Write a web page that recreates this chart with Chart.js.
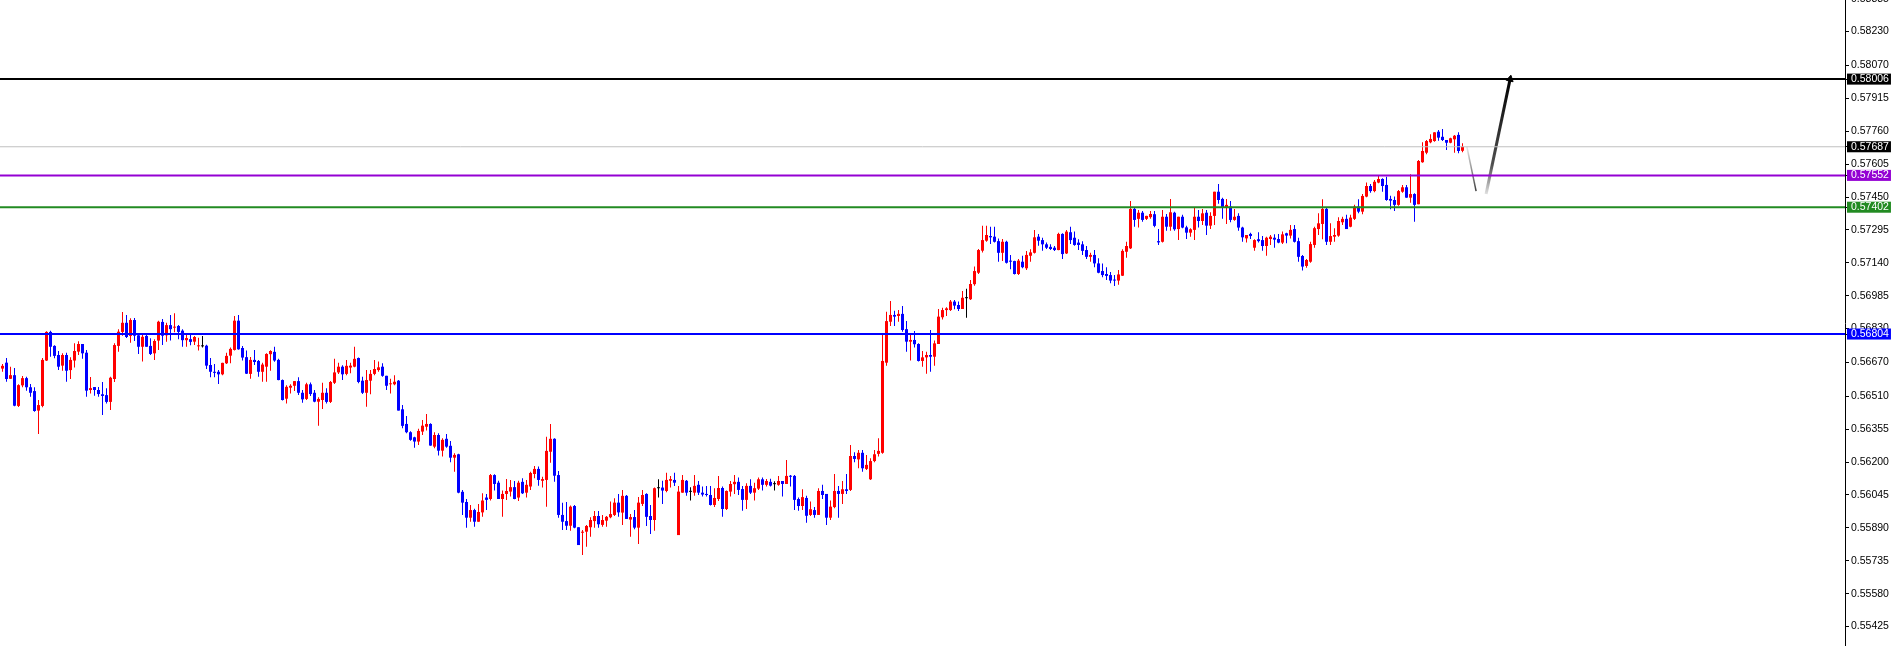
<!DOCTYPE html>
<html>
<head>
<meta charset="utf-8">
<script src="https://cdn.jsdelivr.net/npm/chart.js@4.4.1/dist/chart.umd.min.js"></script>
<style>
    html, body { margin: 0; padding: 0; background: #ffffff; }
    canvas { display: block; }
</style>
</head>
<body>
<canvas id="priceChart" width="1892" height="646"></canvas>
<script>
// candles, oldest first (one per bar)
const opens = [
    0.56641,0.56669,0.56593,0.56610,0.56465,0.56562,0.56596,0.56553,0.56535,0.56443,
    0.56465,0.56679,0.56814,0.56748,0.56705,0.56655,0.56705,0.56634,0.56679,0.56721,
    0.56757,0.56716,0.56540,0.56554,0.56540,0.56520,0.56516,0.56484,0.56592,0.56748,
    0.56814,0.56857,0.56795,0.56870,0.56798,0.56744,0.56795,0.56748,0.56713,0.56773,
    0.56861,0.56798,0.56846,0.56834,0.56842,0.56820,0.56775,0.56780,0.56768,0.56746,
    0.56746,0.56749,0.56658,0.56626,0.56626,0.56614,0.56666,0.56702,0.56729,0.56867,
    0.56738,0.56695,0.56616,0.56682,0.56677,0.56626,0.56650,0.56709,0.56720,0.56682,
    0.56587,0.56499,0.56551,0.56560,0.56582,0.56527,0.56498,0.56567,0.56527,0.56485,
    0.56493,0.56527,0.56484,0.56574,0.56623,0.56650,0.56616,0.56646,0.56650,0.56691,
    0.56584,0.56527,0.56584,0.56616,0.56634,0.56650,0.56607,0.56567,0.56567,0.56584,
    0.56449,0.56380,0.56341,0.56317,0.56297,0.56344,0.56367,0.56380,0.56273,0.56328,
    0.56254,0.56310,0.56277,0.56221,0.56237,0.56060,0.56012,0.55938,0.55974,0.55919,
    0.55963,0.56033,0.56026,0.56139,0.56103,0.56026,0.56050,0.56061,0.56082,0.56033,
    0.56107,0.56056,0.56085,0.56144,0.56168,0.56112,0.56116,0.56249,0.56310,0.56139,
    0.55951,0.55922,0.55900,0.55993,0.55893,0.55867,0.55872,0.55893,0.55922,0.55946,
    0.55904,0.55924,0.55940,0.55951,0.56009,0.55962,0.56041,0.55929,0.55941,0.55891,
    0.56003,0.56050,0.55946,0.55927,0.56077,0.56080,0.56064,0.56112,0.56116,0.55856,
    0.56056,0.56112,0.56060,0.56056,0.56093,0.56056,0.56050,0.56045,0.55998,0.56026,
    0.56078,0.55979,0.56061,0.56096,0.56107,0.56073,0.56022,0.56088,0.56056,0.56075,
    0.56119,0.56093,0.56107,0.56096,0.56093,0.56111,0.56097,0.56136,0.56135,0.56026,
    0.55993,0.56031,0.55951,0.55974,0.55951,0.56064,0.56050,0.55938,0.55988,0.56064,
    0.56050,0.56072,0.56069,0.56229,0.56213,0.56244,0.56168,0.56119,0.56205,0.56239,
    0.56244,0.56669,0.56862,0.56894,0.56889,0.56899,0.56827,0.56768,0.56776,0.56757,
    0.56677,0.56694,0.56705,0.56697,0.56757,0.56883,0.56917,0.56917,0.56957,0.56941,
    0.56922,0.56973,0.56968,0.57039,0.57093,0.57197,0.57244,0.57266,0.57263,0.57242,
    0.57187,0.57239,0.57150,0.57148,0.57087,0.57145,0.57114,0.57173,0.57187,0.57263,
    0.57247,0.57227,0.57215,0.57211,0.57200,0.57276,0.57184,0.57284,0.57258,0.57235,
    0.57227,0.57200,0.57168,0.57177,0.57137,0.57101,0.57087,0.57082,0.57059,0.57056,
    0.57079,0.57192,0.57208,0.57394,0.57347,0.57376,0.57347,0.57355,0.57369,0.57242,
    0.57239,0.57357,0.57310,0.57376,0.57299,0.57357,0.57307,0.57282,0.57295,0.57357,
    0.57337,0.57376,0.57315,0.57361,0.57475,0.57441,0.57402,0.57405,0.57342,0.57361,
    0.57306,0.57255,0.57276,0.57211,0.57251,0.57247,0.57219,0.57252,0.57258,0.57252,
    0.57235,0.57279,0.57268,0.57299,0.57242,0.57172,0.57125,0.57145,0.57224,0.57299,
    0.57323,0.57394,0.57239,0.57263,0.57268,0.57331,0.57347,0.57310,0.57347,0.57405,
    0.57381,0.57452,0.57502,0.57478,0.57518,0.57535,0.57507,0.57441,0.57436,0.57413,
    0.57475,0.57496,0.57447,0.57464,0.57416,0.57614,0.57659,0.57708,0.57714,0.57758,
    0.57734,0.57719,0.57706,0.57722,0.57743,0.57668
];
const highs = [
    0.56663,0.56691,0.56650,0.56644,0.56567,0.56606,0.56603,0.56568,0.56553,0.56493,
    0.56691,0.56817,0.56820,0.56751,0.56724,0.56713,0.56716,0.56694,0.56760,0.56770,
    0.56757,0.56729,0.56601,0.56554,0.56554,0.56578,0.56548,0.56603,0.56760,0.56826,
    0.56908,0.56894,0.56878,0.56879,0.56807,0.56799,0.56807,0.56784,0.56779,0.56867,
    0.56875,0.56857,0.56894,0.56902,0.56846,0.56826,0.56799,0.56807,0.56795,0.56787,
    0.56795,0.56754,0.56691,0.56663,0.56634,0.56668,0.56716,0.56740,0.56889,0.56894,
    0.56748,0.56726,0.56696,0.56729,0.56682,0.56669,0.56713,0.56728,0.56744,0.56687,
    0.56590,0.56563,0.56567,0.56582,0.56600,0.56540,0.56574,0.56576,0.56540,0.56506,
    0.56574,0.56548,0.56582,0.56688,0.56669,0.56657,0.56682,0.56669,0.56744,0.56693,
    0.56603,0.56634,0.56634,0.56682,0.56674,0.56666,0.56607,0.56593,0.56610,0.56587,
    0.56469,0.56418,0.56345,0.56320,0.56357,0.56399,0.56427,0.56383,0.56341,0.56336,
    0.56313,0.56333,0.56300,0.56242,0.56240,0.56069,0.56026,0.55998,0.55980,0.56003,
    0.56053,0.56050,0.56144,0.56143,0.56112,0.56066,0.56120,0.56116,0.56111,0.56112,
    0.56124,0.56116,0.56155,0.56182,0.56179,0.56131,0.56320,0.56380,0.56313,0.56158,
    0.56009,0.56012,0.55995,0.55998,0.55893,0.55880,0.55904,0.55940,0.55969,0.55969,
    0.55951,0.55946,0.56014,0.56030,0.56050,0.56069,0.56045,0.55955,0.55974,0.56035,
    0.56069,0.56053,0.55998,0.56080,0.56119,0.56112,0.56150,0.56135,0.56150,0.56088,
    0.56139,0.56116,0.56082,0.56139,0.56111,0.56085,0.56088,0.56088,0.56077,0.56135,
    0.56085,0.56066,0.56111,0.56139,0.56128,0.56088,0.56100,0.56119,0.56103,0.56128,
    0.56128,0.56120,0.56122,0.56110,0.56135,0.56111,0.56210,0.56139,0.56139,0.56033,
    0.56072,0.56041,0.56014,0.55988,0.56077,0.56093,0.56050,0.56019,0.56144,0.56088,
    0.56111,0.56144,0.56281,0.56246,0.56257,0.56257,0.56234,0.56218,0.56257,0.56313,
    0.56807,0.56909,0.56960,0.56914,0.56917,0.56936,0.56865,0.56804,0.56818,0.56760,
    0.56724,0.56721,0.56823,0.56773,0.56922,0.56928,0.56930,0.56965,0.56965,0.56957,
    0.57007,0.57017,0.57059,0.57122,0.57205,0.57315,0.57315,0.57310,0.57310,0.57255,
    0.57252,0.57244,0.57177,0.57150,0.57158,0.57173,0.57196,0.57204,0.57295,0.57276,
    0.57258,0.57235,0.57227,0.57219,0.57282,0.57279,0.57295,0.57310,0.57287,0.57251,
    0.57242,0.57219,0.57187,0.57200,0.57161,0.57137,0.57119,0.57097,0.57082,0.57106,
    0.57204,0.57239,0.57431,0.57400,0.57389,0.57384,0.57362,0.57384,0.57384,0.57299,
    0.57389,0.57370,0.57441,0.57381,0.57357,0.57366,0.57315,0.57303,0.57400,0.57389,
    0.57394,0.57389,0.57378,0.57475,0.57511,0.57447,0.57441,0.57431,0.57394,0.57373,
    0.57310,0.57271,0.57282,0.57251,0.57284,0.57266,0.57263,0.57271,0.57274,0.57276,
    0.57287,0.57282,0.57318,0.57318,0.57258,0.57177,0.57158,0.57239,0.57310,0.57373,
    0.57439,0.57400,0.57326,0.57303,0.57355,0.57357,0.57366,0.57366,0.57413,0.57439,
    0.57464,0.57519,0.57511,0.57530,0.57551,0.57538,0.57546,0.57456,0.57452,0.57483,
    0.57507,0.57507,0.57557,0.57468,0.57625,0.57708,0.57719,0.57746,0.57755,0.57766,
    0.57771,0.57719,0.57730,0.57743,0.57755,0.57703
];
const lows = [
    0.56626,0.56579,0.56592,0.56463,0.56460,0.56553,0.56537,0.56508,0.56438,0.56333,
    0.56459,0.56677,0.56697,0.56690,0.56634,0.56631,0.56579,0.56592,0.56646,0.56705,
    0.56687,0.56508,0.56524,0.56513,0.56508,0.56422,0.56477,0.56446,0.56578,0.56720,
    0.56796,0.56785,0.56763,0.56771,0.56710,0.56674,0.56744,0.56705,0.56682,0.56729,
    0.56752,0.56768,0.56773,0.56812,0.56779,0.56744,0.56744,0.56751,0.56752,0.56726,
    0.56740,0.56639,0.56600,0.56600,0.56568,0.56610,0.56663,0.56666,0.56726,0.56730,
    0.56679,0.56616,0.56593,0.56658,0.56603,0.56579,0.56579,0.56631,0.56673,0.56586,
    0.56490,0.56476,0.56524,0.56535,0.56516,0.56480,0.56493,0.56512,0.56482,0.56371,
    0.56451,0.56477,0.56479,0.56568,0.56616,0.56587,0.56610,0.56619,0.56647,0.56572,
    0.56521,0.56461,0.56520,0.56610,0.56626,0.56603,0.56540,0.56524,0.56563,0.56443,
    0.56360,0.56336,0.56301,0.56268,0.56281,0.56328,0.56349,0.56277,0.56265,0.56231,
    0.56226,0.56268,0.56199,0.56155,0.56053,0.55951,0.55891,0.55919,0.55895,0.55919,
    0.55942,0.55974,0.56019,0.56066,0.56026,0.55942,0.56022,0.56038,0.56025,0.56017,
    0.56050,0.56033,0.56069,0.56124,0.56089,0.56080,0.55990,0.56197,0.56107,0.55938,
    0.55880,0.55880,0.55877,0.55888,0.55809,0.55762,0.55801,0.55848,0.55891,0.55891,
    0.55895,0.55895,0.55935,0.55946,0.55942,0.55904,0.55932,0.55848,0.55883,0.55814,
    0.55993,0.55899,0.55861,0.55877,0.56033,0.56003,0.56058,0.56080,0.56088,0.55856,
    0.56056,0.56042,0.56019,0.56042,0.56045,0.56038,0.56038,0.55995,0.55988,0.56017,
    0.55942,0.55974,0.56038,0.56050,0.56045,0.55971,0.55979,0.56050,0.56019,0.56069,
    0.56066,0.56085,0.56085,0.56066,0.56089,0.56038,0.56097,0.56085,0.55974,0.55971,
    0.55974,0.55914,0.55946,0.55938,0.55951,0.56026,0.55904,0.55927,0.55982,0.55938,
    0.56003,0.56050,0.56064,0.56199,0.56171,0.56155,0.56163,0.56116,0.56199,0.56226,
    0.56239,0.56654,0.56842,0.56842,0.56862,0.56815,0.56721,0.56679,0.56740,0.56674,
    0.56650,0.56617,0.56626,0.56655,0.56757,0.56873,0.56889,0.56912,0.56921,0.56912,
    0.56922,0.56881,0.56965,0.57032,0.57087,0.57189,0.57239,0.57228,0.57236,0.57145,
    0.57148,0.57137,0.57109,0.57085,0.57082,0.57114,0.57106,0.57145,0.57184,0.57220,
    0.57197,0.57205,0.57200,0.57196,0.57199,0.57158,0.57181,0.57228,0.57220,0.57200,
    0.57177,0.57158,0.57145,0.57119,0.57090,0.57072,0.57059,0.57043,0.57031,0.57036,
    0.57078,0.57164,0.57205,0.57310,0.57306,0.57334,0.57342,0.57347,0.57307,0.57224,
    0.57236,0.57291,0.57291,0.57291,0.57247,0.57303,0.57252,0.57263,0.57247,0.57306,
    0.57318,0.57271,0.57299,0.57318,0.57418,0.57347,0.57323,0.57331,0.57338,0.57291,
    0.57239,0.57235,0.57252,0.57197,0.57236,0.57197,0.57173,0.57224,0.57211,0.57232,
    0.57228,0.57232,0.57255,0.57236,0.57145,0.57103,0.57117,0.57140,0.57211,0.57271,
    0.57251,0.57224,0.57224,0.57239,0.57263,0.57318,0.57299,0.57307,0.57342,0.57373,
    0.57369,0.57449,0.57470,0.57472,0.57515,0.57475,0.57433,0.57392,0.57384,0.57409,
    0.57470,0.57447,0.57423,0.57334,0.57416,0.57612,0.57652,0.57703,0.57711,0.57715,
    0.57714,0.57672,0.57703,0.57659,0.57656,0.57661
];
const closes = [
    0.56654,0.56592,0.56610,0.56466,0.56563,0.56596,0.56553,0.56527,0.56441,0.56469,
    0.56682,0.56814,0.56744,0.56701,0.56650,0.56705,0.56631,0.56682,0.56724,0.56757,
    0.56713,0.56537,0.56549,0.56540,0.56521,0.56512,0.56484,0.56598,0.56752,0.56815,
    0.56857,0.56790,0.56870,0.56796,0.56744,0.56791,0.56744,0.56710,0.56771,0.56862,
    0.56796,0.56846,0.56827,0.56837,0.56814,0.56775,0.56785,0.56767,0.56790,0.56748,
    0.56746,0.56655,0.56626,0.56621,0.56614,0.56668,0.56701,0.56734,0.56867,0.56732,
    0.56693,0.56617,0.56682,0.56672,0.56626,0.56660,0.56710,0.56724,0.56679,0.56587,
    0.56493,0.56555,0.56560,0.56582,0.56527,0.56496,0.56567,0.56521,0.56485,0.56498,
    0.56527,0.56484,0.56578,0.56623,0.56650,0.56614,0.56654,0.56655,0.56687,0.56578,
    0.56527,0.56587,0.56616,0.56639,0.56647,0.56607,0.56560,0.56571,0.56579,0.56443,
    0.56371,0.56341,0.56305,0.56297,0.56347,0.56372,0.56380,0.56278,0.56328,0.56254,
    0.56305,0.56273,0.56221,0.56234,0.56056,0.56009,0.55938,0.55974,0.55919,0.55965,
    0.56019,0.56022,0.56139,0.56097,0.56026,0.56050,0.56064,0.56082,0.56026,0.56103,
    0.56053,0.56093,0.56149,0.56168,0.56116,0.56120,0.56253,0.56310,0.56136,0.55951,
    0.55919,0.55900,0.55990,0.55891,0.55809,0.55872,0.55899,0.55927,0.55946,0.55907,
    0.55927,0.55942,0.55955,0.56009,0.55963,0.56041,0.55932,0.55941,0.55891,0.56009,
    0.56045,0.55942,0.55927,0.56077,0.56077,0.56066,0.56116,0.56120,0.56103,0.56061,
    0.56116,0.56056,0.56060,0.56088,0.56056,0.56047,0.56045,0.55998,0.56031,0.56078,
    0.55979,0.56064,0.56097,0.56107,0.56069,0.56022,0.56088,0.56056,0.56077,0.56119,
    0.56093,0.56111,0.56089,0.56096,0.56111,0.56097,0.56135,0.56131,0.56022,0.55993,
    0.56035,0.55947,0.55978,0.55951,0.56064,0.56045,0.55938,0.55990,0.56064,0.56050,
    0.56072,0.56064,0.56229,0.56215,0.56244,0.56171,0.56187,0.56205,0.56237,0.56253,
    0.56677,0.56865,0.56894,0.56886,0.56899,0.56823,0.56768,0.56776,0.56756,0.56677,
    0.56694,0.56705,0.56697,0.56760,0.56886,0.56917,0.56925,0.56957,0.56938,0.56922,
    0.56975,0.56973,0.57040,0.57101,0.57200,0.57247,0.57271,0.57260,0.57239,0.57187,
    0.57239,0.57140,0.57145,0.57087,0.57150,0.57119,0.57177,0.57189,0.57260,0.57244,
    0.57227,0.57211,0.57205,0.57200,0.57276,0.57181,0.57287,0.57247,0.57224,0.57224,
    0.57196,0.57168,0.57177,0.57137,0.57093,0.57082,0.57078,0.57056,0.57056,0.57085,
    0.57196,0.57219,0.57394,0.57342,0.57376,0.57342,0.57361,0.57370,0.57314,0.57236,
    0.57357,0.57310,0.57378,0.57298,0.57357,0.57306,0.57282,0.57298,0.57357,0.57337,
    0.57373,0.57315,0.57361,0.57475,0.57436,0.57402,0.57413,0.57342,0.57357,0.57306,
    0.57260,0.57271,0.57266,0.57247,0.57242,0.57219,0.57258,0.57263,0.57249,0.57235,
    0.57274,0.57268,0.57295,0.57239,0.57168,0.57122,0.57153,0.57228,0.57303,0.57326,
    0.57394,0.57239,0.57266,0.57271,0.57337,0.57347,0.57299,0.57353,0.57405,0.57381,
    0.57455,0.57502,0.57478,0.57522,0.57535,0.57502,0.57436,0.57433,0.57413,0.57478,
    0.57496,0.57447,0.57464,0.57413,0.57620,0.57667,0.57714,0.57724,0.57755,0.57730,
    0.57719,0.57706,0.57727,0.57739,0.57667,0.57687
];

// price scale labels on the right
const tickLabels = [
    0.58385, 0.58230, 0.58070, 0.57915, 0.57760, 0.57605, 0.57450, 0.57295, 0.57140, 0.56985,
    0.56830, 0.56670, 0.56510, 0.56355, 0.56200, 0.56045, 0.55890, 0.55735, 0.55580, 0.55425
];

// horizontal levels and their price boxes
const levels = [0.58006, 0.57687, 0.57552, 0.57402, 0.56804];
const levelLineColors = ["#000000", "#c0c0c0", "#9400d3", "#228b22", "#0000ff"];
const levelBoxColors = ["#000000", "#000000", "#9400d3", "#228b22", "#0000ff"];
const levelWidths = [2, 1, 2, 2, 2];

// projected path drawn after the last candle (bar index, price)
const pullbackX = [366.1, 368.4];
const pullbackY = [0.57687, 0.57478];
const arrowX = [370.9, 376.9];
const arrowY = [0.57464, 0.58006];

const candleColor = (i) =>
    closes[i] > opens[i] ? "#ff0000" : closes[i] < opens[i] ? "#0000ff" : "#000000";

const wickData = opens.map((_, i) => ({ x: i, y: [lows[i], highs[i]] }));
const bodyData = opens.map((_, i) => ({ x: i, y: [opens[i], closes[i]] }));

function verticalGradient(chart, fromY, toY, stops) {
    const fallback = stops[stops.length - 1][1];
    const yScale = chart.scales.y;
    if (!yScale || !chart.chartArea) return fallback;
    const y0 = yScale.getPixelForValue(fromY);
    const y1 = yScale.getPixelForValue(toY);
    if (!Number.isFinite(y0) || !Number.isFinite(y1)) return fallback;
    const g = chart.ctx.createLinearGradient(0, y0, 0, y1);
    stops.forEach((s) => g.addColorStop(s[0], s[1]));
    return g;
}

const levelSets = levels.map((lv, k) => ({
    type: "line",
    data: [{ x: -5, y: lv }, { x: 500, y: lv }],
    borderColor: levelLineColors[k],
    borderWidth: levelWidths[k],
    pointRadius: 0,
    order: 0,
}));

const ctx = document.getElementById("priceChart").getContext("2d");

new Chart(ctx, {
    type: "bar",
    data: {
        datasets: [
            {
                data: wickData,
                backgroundColor: (c) => candleColor(c.dataIndex),
                barThickness: 1,
                grouped: false,
                borderWidth: 0,
                inflateAmount: 0,
                order: 3,
            },
            {
                data: bodyData,
                backgroundColor: (c) => candleColor(c.dataIndex),
                barThickness: 3,
                grouped: false,
                borderWidth: 0,
                inflateAmount: 0,
                minBarLength: 1,
                order: 2,
            },
            ...levelSets,
            {
                type: "line",
                data: pullbackX.map((x, i) => ({ x: x, y: pullbackY[i] })),
                borderColor: (c) =>
                    verticalGradient(c.chart, pullbackY[0], pullbackY[1], [[0, "#e8e8e8"], [1, "#404040"]]),
                borderWidth: 1.5,
                pointRadius: 0,
                order: 0,
            },
            {
                type: "line",
                data: arrowX.map((x, i) => ({ x: x, y: arrowY[i] })),
                borderColor: (c) =>
                    verticalGradient(c.chart, arrowY[0], arrowY[1], [[0, "#e0e0e0"], [0.25, "#505050"], [1, "#000000"]]),
                borderWidth: 3,
                pointRadius: [0, 4],
                pointStyle: "triangle",
                pointRotation: [0, 11.6],
                pointBackgroundColor: "#000000",
                pointBorderColor: "#000000",
                pointBorderWidth: 1,
                order: 0,
            },
        ],
    },
    options: {
        responsive: false,
        animation: false,
        devicePixelRatio: 1,
        events: [],
        layout: { padding: 0, autoPadding: false },
        plugins: {
            legend: { display: false },
            tooltip: { enabled: false },
        },
        scales: {
            x: {
                type: "linear",
                display: false,
                offset: false,
                min: -0.625,
                max: 460.625,
            },
            y: {
                type: "linear",
                position: "right",
                min: 0.55333,
                max: 0.58379,
                bounds: "data",
                beginAtZero: false,
                grace: 0,
                afterFit: (scale) => {
                    scale.width = 47;
                    scale.paddingTop = 0;
                    scale.paddingBottom = 0;
                },
                afterBuildTicks: (scale) => {
                    const t = tickLabels.map((v) => ({ value: v }));
                    levels.forEach((v, k) => t.push({ value: v, boxColor: levelBoxColors[k] }));
                    scale.ticks = t;
                },
                border: { display: true, color: "#000000", width: 1 },
                grid: {
                    drawOnChartArea: false,
                    drawTicks: true,
                    tickLength: 4,
                    tickColor: "#000000",
                },
                ticks: {
                    autoSkip: false,
                    padding: 2,
                    color: (c) => (c.tick && c.tick.boxColor ? "#ffffff" : "#000000"),
                    showLabelBackdrop: (c) => !!(c.tick && c.tick.boxColor),
                    backdropColor: (c) => (c.tick && c.tick.boxColor) || "rgba(0,0,0,0)",
                    backdropPadding: { left: 4, right: 2, top: 0, bottom: 0 },
                    font: { family: "Liberation Sans", size: 10.5, lineHeight: 1.05 },
                    callback: (value) => Number(value).toFixed(5),
                },
            },
        },
    },
});
</script>
</body>
</html>
